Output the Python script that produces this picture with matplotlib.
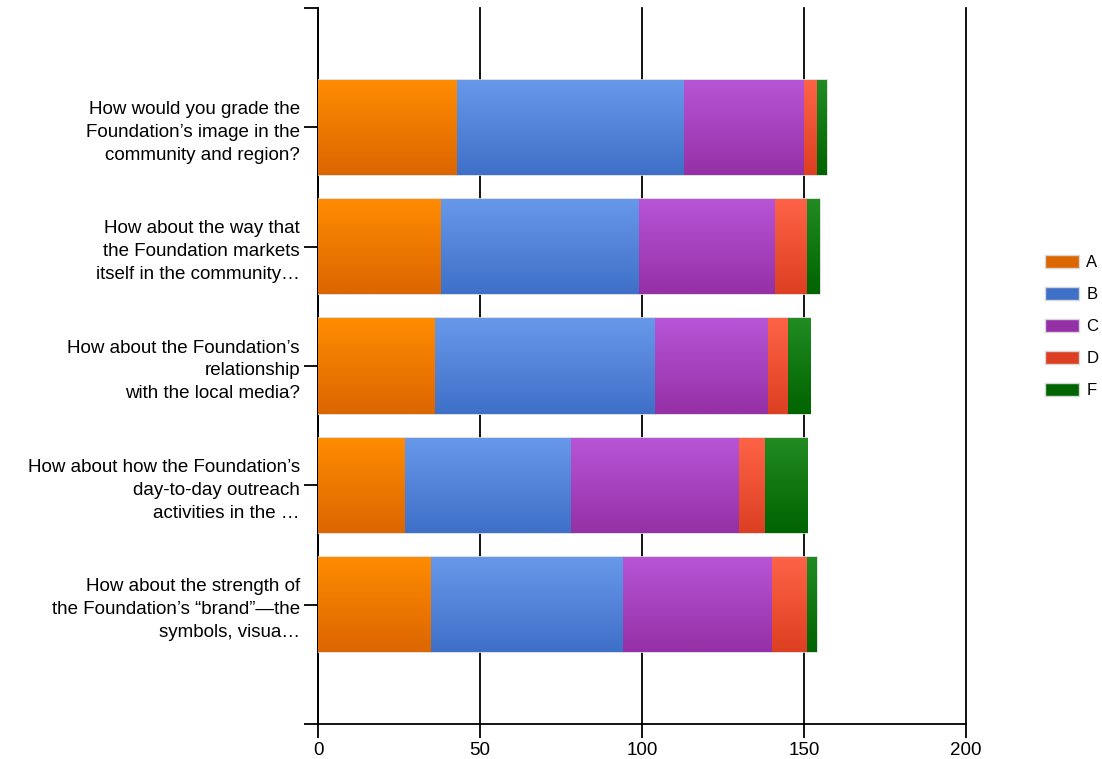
import numpy as np
import matplotlib
matplotlib.use("Agg")
import matplotlib.pyplot as plt
from matplotlib.colors import LinearSegmentedColormap
from matplotlib.patches import Patch

plt.rcParams['font.family'] = ['Liberation Sans', 'DejaVu Sans']

# Questions (top to bottom) and answer counts per grade
questions = [
    "How would you grade the\nFoundation\u2019s image in the\ncommunity and region?",
    "How about the way that\nthe Foundation markets\nitself in the community\u2026",
    "How about the Foundation\u2019s\nrelationship\nwith the local media?",
    "How about how the Foundation\u2019s\nday-to-day outreach\nactivities in the \u2026",
    "How about the strength of\nthe Foundation\u2019s \u201cbrand\u201d\u2014the\nsymbols, visua\u2026",
]
grades = ['A', 'B', 'C', 'D', 'F']
A = [43, 38, 36, 27, 35]
B = [70, 61, 68, 51, 59]
C = [37, 42, 35, 52, 46]
D = [4, 10, 6, 8, 11]
F = [3, 4, 7, 13, 3]
series = [A, B, C, D, F]

# light (top) / dark (bottom) colour for each grade
top_cols = ['#ff8c00', '#6898ea', '#b855d6', '#ff6347', '#228b22']
bot_cols = ['#dc6600', '#3f70c8', '#9530a6', '#dc3f22', '#006400']

fig = plt.figure(figsize=(11.02, 7.59), dpi=100)
ax = fig.add_axes([318 / 1102, 1 - 724 / 759, (966 - 318) / 1102, (724 - 8) / 759])

pos = np.arange(1, len(questions) + 1)
left = np.zeros(len(questions))
grad = np.linspace(0, 1, 64).reshape(-1, 1)
for vals, c1, c2, g in zip(series, top_cols, bot_cols, grades):
    bars = ax.barh(pos, vals, left=left, height=0.8, color=c1,
                   edgecolor='#d8d8d8', linewidth=1.2, zorder=3, label=g)
    cmap = LinearSegmentedColormap.from_list(g, [c1, c2])
    for b in bars:
        x0, y0 = b.get_x(), b.get_y()
        w, h = b.get_width(), b.get_height()
        im = ax.imshow(grad, cmap=cmap, aspect='auto', zorder=3.5,
                       extent=(x0, x0 + w, y0 + h, y0), origin='upper')
        im.set_clip_path(b)
    left += np.array(vals)

ax.set_xlim(0, 200)
ax.set_ylim(6, 0)
ax.set_xticks([0, 50, 100, 150, 200])
ax.set_yticks(range(0, 7))
ax.set_yticklabels([''] + questions + [''])
ax.grid(axis='x', color='black', linewidth=1.3, zorder=1)
for gl in ax.get_xgridlines():
    gl.set_clip_on(False)
for s in ['top', 'right']:
    ax.spines[s].set_visible(False)
ax.spines['left'].set_linewidth(1.3)
ax.spines['bottom'].set_linewidth(1.3)
ax.tick_params(axis='both', length=10, width=1.3, labelsize=13.5, pad=3)
for t in ax.get_yticklabels():
    t.set_horizontalalignment('right')
    t.set_multialignment('right')
    t.set_linespacing(1.45)

handles = [Patch(facecolor=c, edgecolor='#d8d8d8') for c in bot_cols]
fig.legend(handles, grades, loc='upper left', bbox_to_anchor=(1032 / 1102, 1 - 242 / 759),
           frameon=False, fontsize=12, handlelength=2.0, handleheight=0.75,
           labelspacing=1.02, handletextpad=0.45, borderpad=0.3)

fig.savefig('out.png', dpi=100)
